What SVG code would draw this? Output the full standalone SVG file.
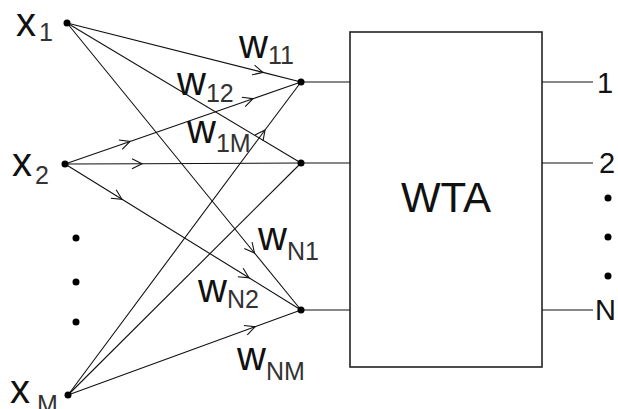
<svg xmlns="http://www.w3.org/2000/svg" width="618" height="409" viewBox="0 0 618 409">
<defs>
<marker id="chev" markerUnits="userSpaceOnUse" markerWidth="24" markerHeight="24" refX="12" refY="12" orient="auto" viewBox="0 0 24 24">
<path d="M2,7 L12,12 L2,17" fill="none" stroke="#111" stroke-width="1.1"/>
</marker>
</defs>
<style>
.ln{fill:none;stroke:#111;stroke-width:1.1}
.ar{marker-mid:url(#chev)}
.dot{fill:#000}
.t{font-family:"Liberation Sans",Arial,sans-serif;fill:#111}
.big{font-size:40px}
.sub{font-size:25px;fill:#333}
.out{font-size:29px}
.box{fill:#fff;stroke:#222;stroke-width:1.6}
</style>
<rect width="618" height="409" fill="#fff"/>
<g id="connectors">
<polyline class="ln ar" points="67,23 263,72.4 301,82"/>
<line class="ln" x1="67" y1="23" x2="301" y2="163"/>
<polyline class="ln ar" points="67,23 254.5,253 301,310"/>
<polyline class="ln ar" points="65,164 130,141.4 253,98.7 301,82"/>
<polyline class="ln ar" points="65,164 142,163.7 301,163"/>
<polyline class="ln ar" points="65,164 122,199.3 249,277.8 301,310"/>
<polyline class="ln ar" points="68,395 265,130 301,82"/>
<line class="ln" x1="68" y1="395" x2="301" y2="163"/>
<polyline class="ln ar" points="68,395 255,326.8 301,310"/>
<line class="ln" x1="301" y1="82" x2="350" y2="82"/>
<line class="ln" x1="301" y1="163" x2="350" y2="163"/>
<line class="ln" x1="301" y1="310" x2="350" y2="310"/>
<line class="ln" x1="542" y1="82" x2="593" y2="82"/>
<line class="ln" x1="542" y1="163" x2="593" y2="163"/>
<line class="ln" x1="542" y1="310" x2="593" y2="310"/>
</g>
<g id="x1"><circle class="dot" cx="67" cy="23" r="3.5"/><text class="t big" x="16" y="36">x</text><text class="t sub" x="39" y="41">1</text></g>
<g id="x2"><circle class="dot" cx="65" cy="164" r="3.5"/><text class="t big" x="12" y="176">x</text><text class="t sub" x="35" y="184">2</text></g>
<g id="xM"><circle class="dot" cx="68" cy="395" r="3.5"/><text class="t big" x="10" y="403">x</text><text class="t sub" x="37" y="413">M</text></g>
<g id="left-dots"><circle class="dot" cx="76" cy="238" r="3.5"/><circle class="dot" cx="76" cy="282" r="3.5"/><circle class="dot" cx="76" cy="322" r="3.5"/></g>
<g id="n1"><circle class="dot" cx="301" cy="82" r="3.5"/></g>
<g id="n2"><circle class="dot" cx="301" cy="163" r="3.5"/></g>
<g id="n3"><circle class="dot" cx="301" cy="310" r="3.5"/></g>
<g id="labels">
<text class="t big" x="239" y="58">w<tspan class="sub" dy="6">11</tspan></text>
<text class="t big" x="177" y="95">w<tspan class="sub" dy="7">12</tspan></text>
<text class="t big" x="187" y="143">w<tspan class="sub" dy="9">1M</tspan></text>
<text class="t big" x="258" y="250">w<tspan class="sub" dy="10">N1</tspan></text>
<text class="t big" x="198" y="302">w<tspan class="sub" dy="6">N2</tspan></text>
<text class="t big" x="237" y="370">w<tspan class="sub" dy="10">NM</tspan></text>
</g>
<g id="wta"><rect class="box" x="350" y="32" width="192" height="335"/><text class="t" x="446" y="212" font-size="42" text-anchor="middle">WTA</text></g>
<g id="outputs">
<text class="t out" x="597" y="93">1</text>
<text class="t out" x="599" y="173">2</text>
<circle class="dot" cx="608" cy="198" r="3.5"/><circle class="dot" cx="608" cy="237" r="3.5"/><circle class="dot" cx="608" cy="276" r="3.5"/>
<text class="t out" x="595" y="320">N</text>
</g>
</svg>
